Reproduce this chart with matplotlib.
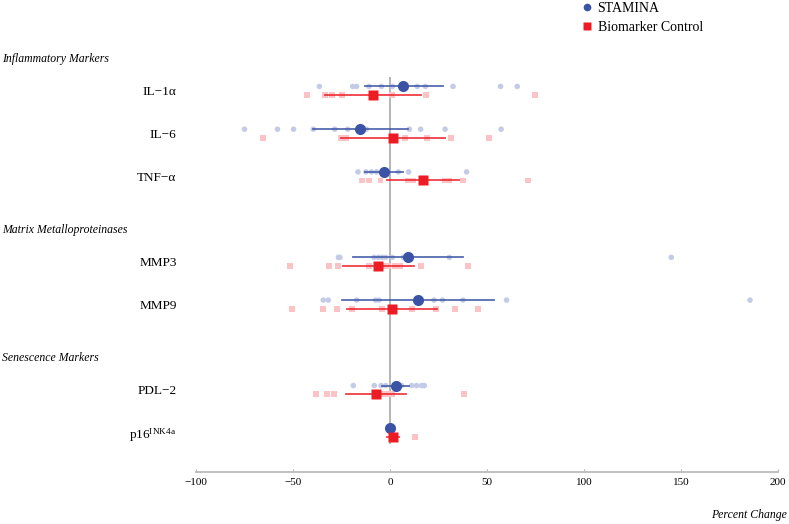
import matplotlib
matplotlib.use("Agg")
import matplotlib.pyplot as plt
import matplotlib.transforms as mtransforms
from matplotlib.lines import Line2D

plt.rcParams['font.family'] = ['Liberation Serif', 'DejaVu Serif']
plt.rcParams['mathtext.fontset'] = 'custom'
plt.rcParams['mathtext.rm'] = 'Liberation Serif'
plt.rcParams['mathtext.it'] = 'Liberation Serif:italic'

# ---------------- data ----------------
markers = ["IL\u22121\u03b1", "IL\u22126", "TNF\u2212\u03b1", "MMP3", "MMP9", "PDL\u22122",
           r"p16$^{\mathrm{INK4a}}$"]
rows = [0, 1, 2, 4, 5, 7, 8]
groups = ["Inflammatory Markers", "Matrix Metalloproteinases", "Senescence Markers"]
group_rows = [0, 4, 7]

stamina_points = [
    [-36.4, -19.2, -17.2, -10.8, -4.4, 1.3, 14, 18.2, 32.5, 57, 65.6],
    [-75, -58, -49.7, -39.5, -28.5, -21.8, -12.2, 10, 15.8, 28.4, 57.3],
    [-16.5, -12.4, -9.5, -6.9, 4.3, 9.6, 39.5],
    [-26.6, -25.8, -8.2, -6, -4, -2.2, 1.2, 6.9, 30.6, 145],
    [-34.4, -31.8, -17.2, -7.4, -5.7, 22.7, 27.1, 37.6, 60.1, 185.6],
    [-18.9, -8.1, -4.6, -2.2, 6, 11.2, 13.7, 16.3, 17.7],
    [],
]
stamina_mean = [6.9, -15.5, -2.9, 9.5, 14.3, 2.9, 0.0]
stamina_lo = [-12.9, -39.5, -12.9, -18.9, -24.9, -4.3, -0.5]
stamina_hi = [27.1, 9.1, 6.9, 37.8, 53.6, 10.0, 0.5]

control_points = [
    [-43, -33.5, -29.7, -24.7, 0.9, 18.4, 74.6],
    [-65.6, -25.5, -22.7, 7.7, 19, 31.5, 51],
    [-14.3, -10.8, -4.9, 9.1, 12, 28.4, 30.6, 37.8, 71.1],
    [-51.5, -31.3, -26.6, -10.7, -2, -0.9, 2.6, 5.2, 15.8, 40],
    [-50.7, -34.7, -27.5, -19.4, -4.3, 11.3, 23.7, 33.5, 33.8, 45.5],
    [-38.1, -32.3, -28.7, -3.1, -1.4, 1.2, 38.3],
    [13],
]
control_mean = [-8.6, 1.7, 16.8, -6.0, 1.2, -7.4, 1.4]
control_lo = [-33.5, -25.0, -1.4, -24.0, -22.3, -22.8, -1.7]
control_hi = [16.0, 28.2, 35.6, 12.4, 24.0, 8.1, 4.8]

xticks = [-100, -50, 0, 50, 100, 150, 200]

# ---------------- style ----------------
BLUE = "#3a53a4"
RED = "#ed1c24"
BLUE_L = "#c3cbe6"
RED_L = "#fbc3c6"
off = 0.1

fig = plt.figure(figsize=(7.89, 5.24), dpi=100)
ax = fig.add_axes([0.2484, 1 - 472 / 524, 0.7376, (472 - 48) / 524])

for i, r in enumerate(rows):
    yb = r - off
    yr = r + off
    if stamina_points[i]:
        ax.scatter(stamina_points[i], [yb] * len(stamina_points[i]), s=16,
                   color=BLUE_L, edgecolors='none', zorder=2)
    if control_points[i]:
        ax.scatter(control_points[i], [yr] * len(control_points[i]), s=18, marker='s',
                   color=RED_L, edgecolors='none', zorder=2)
    ax.plot([stamina_lo[i], stamina_hi[i]], [yb, yb], color=BLUE, lw=1.3, alpha=0.85, zorder=3)
    ax.plot([control_lo[i], control_hi[i]], [yr, yr], color=RED, lw=1.3, alpha=0.85, zorder=3)
    ax.plot([stamina_mean[i]], [yb], 'o', color=BLUE, ms=8, mec='none', zorder=5)
    ax.plot([control_mean[i]], [yr], 's', color=RED, ms=7.5, mec='none', zorder=5)

ax.plot([0, 0], [-0.3, 8.25], color="#b5b5b5", lw=1.4, zorder=1)

ax.set_xlim(-100, 200)
ax.set_ylim(8 + (472 - 432.6) / 42.7, -1.0)
ax.set_xticks(xticks)
ax.set_xticklabels([("\u2212" + str(-t)) if t < 0 else str(t) for t in xticks], fontsize=8)
ax.set_yticks(rows)
ax.set_yticklabels(markers, fontsize=9.5)
ax.tick_params(axis='y', length=0, pad=14)
ax.tick_params(axis='x', length=2, direction='in', color="#b5b5b5", pad=4)
for s in ['top', 'right', 'left']:
    ax.spines[s].set_visible(False)
ax.spines['bottom'].set_color("#c0c0c0")
ax.spines['bottom'].set_linewidth(1.4)

trans = mtransforms.blended_transform_factory(fig.transFigure, ax.transData)
for g, r in zip(groups, group_rows):
    ax.text(0.003, r - 0.75, g, transform=trans, fontsize=8.5, style='italic',
            ha='left', va='center', clip_on=False)

fig.text(0.998, 1 - 515 / 524, "Percent Change", fontsize=8.5, style='italic',
         ha='right', va='center')

handles = [Line2D([], [], marker='o', color=BLUE, ls='none', ms=5.5, mec='none'),
           Line2D([], [], marker='s', color=RED, ls='none', ms=6, mec='none')]
fig.legend(handles, ["STAMINA", "Biomarker Control"], loc='upper left',
           bbox_to_anchor=(574 / 789, 1.012), frameon=False, fontsize=10,
           handlelength=0.6, handletextpad=0.5, labelspacing=0.45, borderpad=0.1)

fig.savefig("out.png", dpi=100)
